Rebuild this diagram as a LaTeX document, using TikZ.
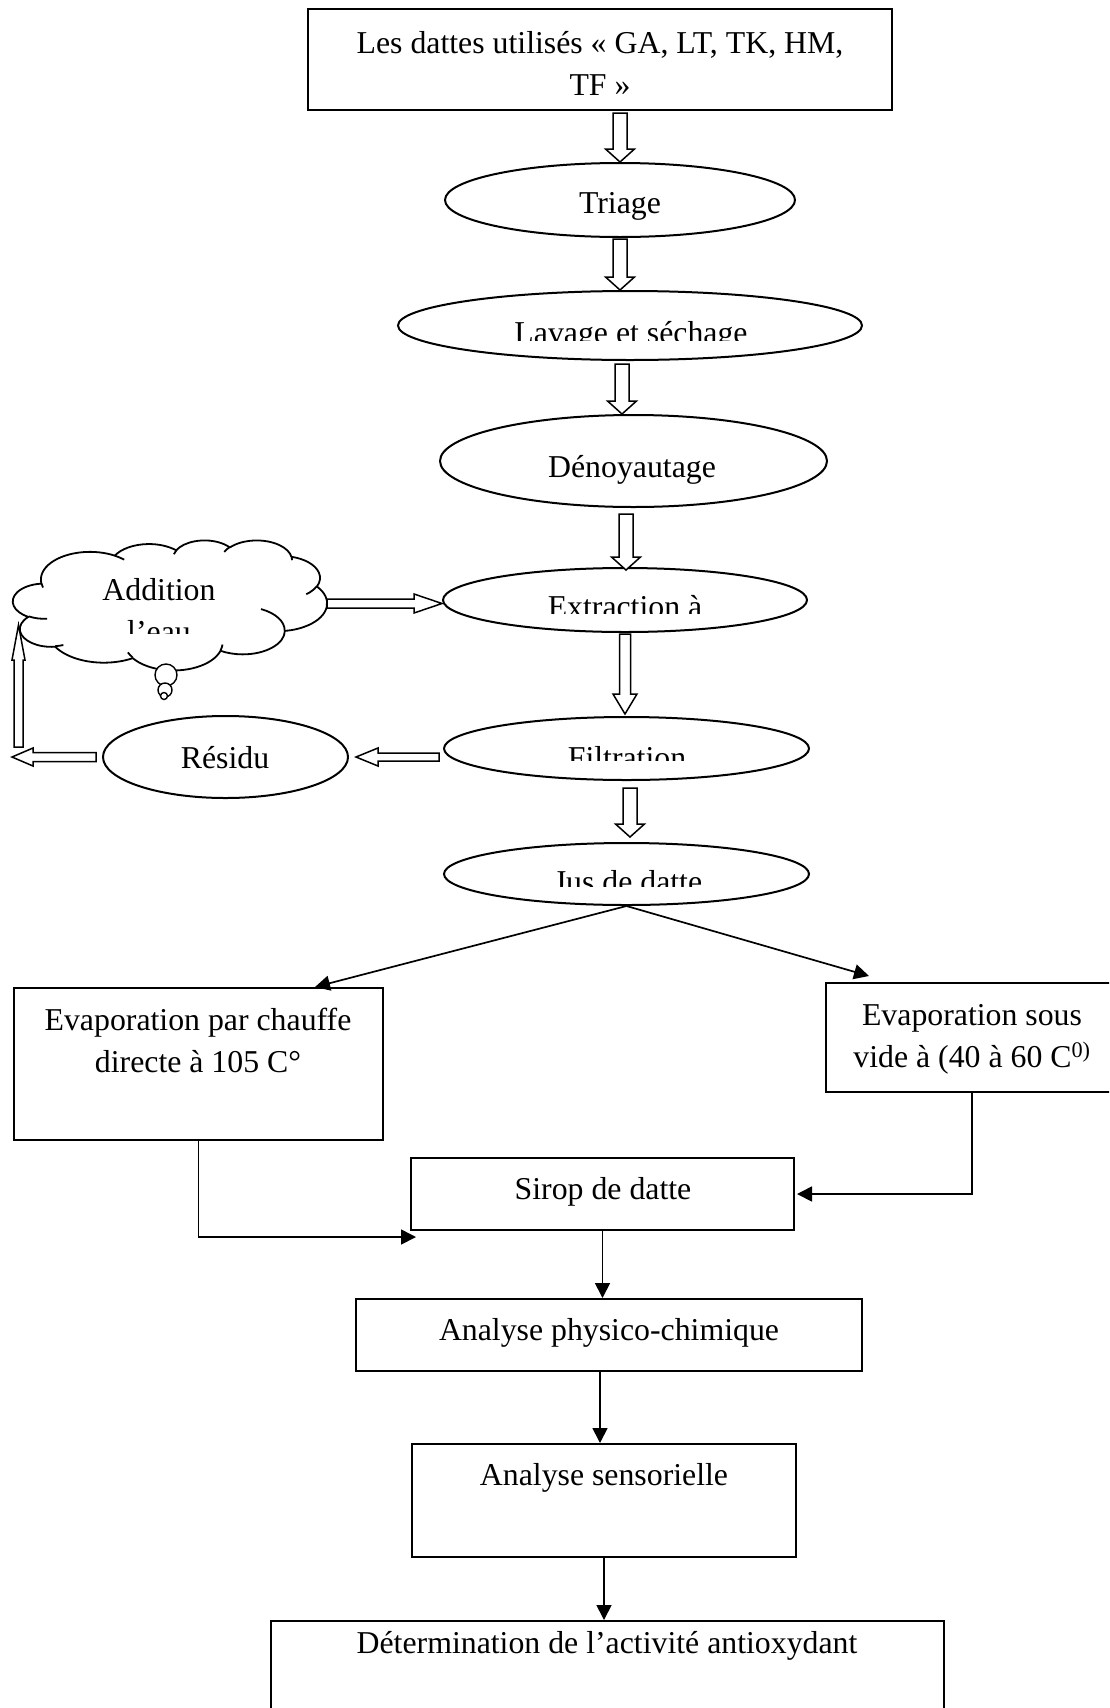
\documentclass[tikz,border=0pt]{standalone}
\usepackage{fontspec}
\setmainfont{Liberation Serif}
\usetikzlibrary{shapes.geometric,arrows.meta,calc}

\tikzset{
  outline/.style={draw=black, line width=2pt},
  boxnode/.style={outline, rectangle, inner sep=0pt},
  ovalnode/.style={outline, ellipse, inner sep=0pt},
  txt/.style={font=\fontsize{31.8}{42}\selectfont, inner sep=0pt, anchor=base},
  conn/.style={line width=1.7pt, -{Triangle[length=15pt,width=15pt]}},
  blockarrow/.style={draw=black, line width=1.5pt, fill=white, line join=miter},
}

% hollow block arrow: #1 start, #2 tip, #3 half shaft width, #4 half head width, #5 head length
\newcommand\hollowarrow[5]{%
  \coordinate (ha-base) at ($(#2)!#5!(#1)$);
  \draw[blockarrow]
    ($(#1)!#3!90:(#2)$) -- ($(ha-base)!#3!90:(#2)$) -- ($(ha-base)!#4!90:(#2)$)
    -- (#2)
    -- ($(ha-base)!#4!-90:(#2)$) -- ($(ha-base)!#3!-90:(#2)$) -- ($(#1)!#3!-90:(#2)$)
    -- cycle;
}

\begin{document}
\begin{tikzpicture}[x=1pt,y=-1pt]
\useasboundingbox (0,0) rectangle (1109,1708);
\clip (0,0) rectangle (1109,1708);

% ---- main column ----
\node[boxnode, minimum width=584pt, minimum height=101pt] (top) at (600,59.5) {};
\node[txt, align=center] (toptext) at (600,95) {Les dattes utilisés « GA, LT, TK, HM,\\TF »};

\node[ovalnode, minimum width=350pt, minimum height=74pt] (triage) at (620,200) {};
\node[txt] (triaget) at (620,213) {Triage};

\node[ovalnode, minimum width=464pt, minimum height=69pt] (lavage) at (630,325.5) {};
\begin{scope}
  \clip (380,280) rectangle (880,340);
  \node[txt] (lavaget) at (631,343) {Lavage et séchage};
\end{scope}

\node[ovalnode, minimum width=387pt, minimum height=92pt] (denoy) at (633.5,461) {};
\node[txt] (denoyt) at (632,477) {Dénoyautage};

\node[ovalnode, minimum width=364pt, minimum height=64pt] (extr) at (625,600) {};
\begin{scope}
  \clip (430,560) rectangle (820,613);
  \node[txt] (extrt) at (625,617) {Extraction à};
\end{scope}

\node[ovalnode, minimum width=365pt, minimum height=63pt] (filt) at (626.5,748.5) {};
\begin{scope}
  \clip (430,700) rectangle (820,760);
  \node[txt] (filtt) at (627,768) {Filtration};
\end{scope}

\node[ovalnode, minimum width=365pt, minimum height=62pt] (jus) at (626.5,874) {};
\begin{scope}
  \clip (430,830) rectangle (820,886);
  \node[txt] (just) at (628,892) {Jus de datte};
\end{scope}

% ---- cloud callout (puffs as elliptic arcs, angles measured on the ray) ----
\begin{scope}[shift={(13,540)}, x=0.072685pt, y=-0.030093pt, line width=1.8pt, line join=round]
  \gdef\cloudpath{}
  \foreach \cwr/\chr/\cst/\csw in {
      675.3/919.0/-190.4874833/123.7805333,
      533.3/726.7/-144.1023833/89.9452333,
      436.5/594.5/-145.8079167/99.7230167,
      485.7/659.5/-130.9860667/117.2417333,
      533.3/727.3/-78.7088833/109.0269167,
      677.5/922.0/-46.26725/130.269,
      578.5/786.7/0.6250167/114.0333333,
      675.2/921.5/22.4516/115.17255,
      772.0/1054.3/66.2426333/75.7110167,
      436.0/591.8/-274.9420833/146.7355667,
      434.5/594.5/-246.8285/152.51885} {
    \pgfmathsetmacro\cta{atan2(\cwr*sin(\cst),\chr*cos(\cst))}
    \pgfmathsetmacro\ctb{atan2(\cwr*sin(\cst+\csw),\chr*cos(\cst+\csw))}
    \pgfmathsetmacro\cdt{mod(\ctb-\cta+720,360)}
    \xdef\cloudpath{\cloudpath arc[x radius=\cwr, y radius=\chr, start angle=\cta, delta angle=\cdt]}
  }
  \draw (390,1437) \cloudpath -- cycle;
  % inner seams where the puffs overlap
  \foreach \cpx/\cpy/\cwr/\chr/\cst/\csw in {
      469.3/2617.7/434.5/594.5/86.742/26.4295,
      692.8/3489.9/436.0/591.8/73.61047/11.44747,
      1647.8/3909.0/675.2/921.5/137.62415/14.0811,
      2882.7/3475.1/675.2/921.5/6.45327/15.99835,
      3412.9/2295.4/578.5/786.7/-70.29235/70.91737,
      4179.8/1535.4/533.3/727.3/30.31803/27.7515,
      3832.4/542.6/485.7/659.5/-13.74433/14.8589,
      2907.8/395.2/485.7/659.5/-149.18145/18.19537,
      2214.1/472.0/436.5/594.5/-163.49427/17.68635,
      1400.0/519.2/675.3/919.0/-66.70695/12.31935,
      412.7/1578.9/675.3/919.0/157.65435/11.85817} {
    \pgfmathsetmacro\cta{atan2(\cwr*sin(\cst),\chr*cos(\cst))}
    \pgfmathsetmacro\ctb{atan2(\cwr*sin(\cst+\csw),\chr*cos(\cst+\csw))}
    \pgfmathsetmacro\cdt{mod(\ctb-\cta+720,360)}
    \draw (\cpx,\cpy) arc[x radius=\cwr, y radius=\chr, start angle=\cta, delta angle=\cdt];
  }
\end{scope}
\coordinate (cloudeast) at (327,603.5);
\coordinate (cloudin) at (18.5,625);

\node[txt] (addt) at (159,600) {Addition};
\begin{scope}
  \clip (0,560) rectangle (330,633);
  \node[txt] (eaut) at (159,642) {l’eau};
\end{scope}
\node[circle, outline, line width=1.4pt, fill=white, minimum size=22pt, inner sep=0pt] (bub1) at (166,675) {};
\node[circle, outline, line width=1.4pt, fill=white, minimum size=14pt, inner sep=0pt] (bub2) at (165,690) {};
\node[circle, outline, line width=1.4pt, fill=white, minimum size=7pt, inner sep=0pt] (bub3) at (164,696) {};

\node[ovalnode, minimum width=245pt, minimum height=82pt] (residu) at (225.5,757) {};
\node[txt] (residut) at (225,768) {Résidu};

% ---- evaporation and analyses ----
\node[boxnode, minimum width=369pt, minimum height=152pt] (evl) at (198.5,1064) {};
\node[txt, align=center] (evlt) at (198,1072) {Evaporation par chauffe\\directe à 105 C°};

\node[boxnode, minimum width=292pt, minimum height=109pt] (evr) at (972,1037.5) {};
\node[txt, align=center] (evrt) at (972,1067) {Evaporation sous\\vide à (40 à 60 C\textsuperscript{0)}};

\node[boxnode, minimum width=383pt, minimum height=72pt] (sirop) at (602.5,1194) {};
\node[txt] (siropt) at (603,1199) {Sirop de datte};

\node[boxnode, minimum width=506pt, minimum height=72pt] (physico) at (609,1335) {};
\node[txt] (physicot) at (609,1340) {Analyse physico-chimique};

\node[boxnode, minimum width=384pt, minimum height=113pt] (sens) at (604,1500.5) {};
\node[txt] (senst) at (604,1485) {Analyse sensorielle};

\node[boxnode, minimum width=673pt, minimum height=149pt] (det) at (607.5,1695.5) {};
\node[txt] (dett) at (607,1653) {Détermination de l’activité antioxydant};

% ---- hollow arrows of the main column ----
\path (triage.north |- top.south) ++(0,-2pt) coordinate (a1s);
\hollowarrow{a1s}{triage.north}{7pt}{14.5pt}{13pt}
\path (triage.south) ++(0,-1pt) coordinate (a2s);
\path (a2s |- lavage.north) coordinate (a2e);
\hollowarrow{a2s}{a2e}{7pt}{14.5pt}{13pt}
\path ([xshift=-8pt]lavage.south) ++(0,-3pt) coordinate (a3s);
\path (a3s |- denoy.north) coordinate (a3e);
\hollowarrow{a3s}{a3e}{7pt}{14.5pt}{13pt}
\path ([xshift=-7.5pt]denoy.south) ++(0,-6pt) coordinate (a4s);
\path (a4s |- extr.north) ++(0,-3pt) coordinate (a4e);
\hollowarrow{a4s}{a4e}{7pt}{14.5pt}{13pt}
\path (extr.south) ++(0,-1pt) coordinate (a5s);
\path (a5s |- filt.north) ++(0,2pt) coordinate (a5e);
\hollowarrow{a5s}{a5e}{5.5pt}{12pt}{20pt}
\path ([xshift=3.5pt]filt.south) ++(0,-7pt) coordinate (a6s);
\path (a6s |- jus.north) ++(0,5pt) coordinate (a6e);
\hollowarrow{a6s}{a6e}{7pt}{14.5pt}{13pt}

% ---- hollow arrows of the loop ----
\path (extr.west |- cloudeast) coordinate (a7e);
\hollowarrow{cloudeast}{a7e}{4.5pt}{9.5pt}{28pt}
\path (filt.west |- residu.east) ++(-4pt,0) coordinate (a8s);
\path (residu.east) ++(7pt,0) coordinate (a8e);
\hollowarrow{a8s}{a8e}{4pt}{9pt}{22pt}
\path (residu.west) ++(-6pt,0) coordinate (a9s);
\coordinate (loopturn) at (12,757);
\hollowarrow{a9s}{loopturn}{4.5pt}{9pt}{21pt}
\coordinate (looprise) at (18.5,747);
\hollowarrow{looprise}{cloudin}{4.5pt}{6.5pt}{35pt}

% ---- plain connectors ----
\draw[conn] (jus.south) -- ([xshift=116.5pt]evl.north);
\draw[conn] (jus.south) -- ([xshift=-103pt,yshift=6pt]evr.north);
\draw[conn] (evl.south) |- ([xshift=6pt,yshift=-6pt]sirop.south west);
\draw[conn] (evr.south) |- ([xshift=2pt]sirop.east);
\draw[conn] (sirop.south) -- (sirop.south |- physico.north);
\path ([xshift=-9pt]physico.south) coordinate (c5s);
\draw[conn] (c5s) -- (c5s |- sens.north);
\draw[conn] (sens.south) -- (sens.south |- det.north);
\end{tikzpicture}
\end{document}
